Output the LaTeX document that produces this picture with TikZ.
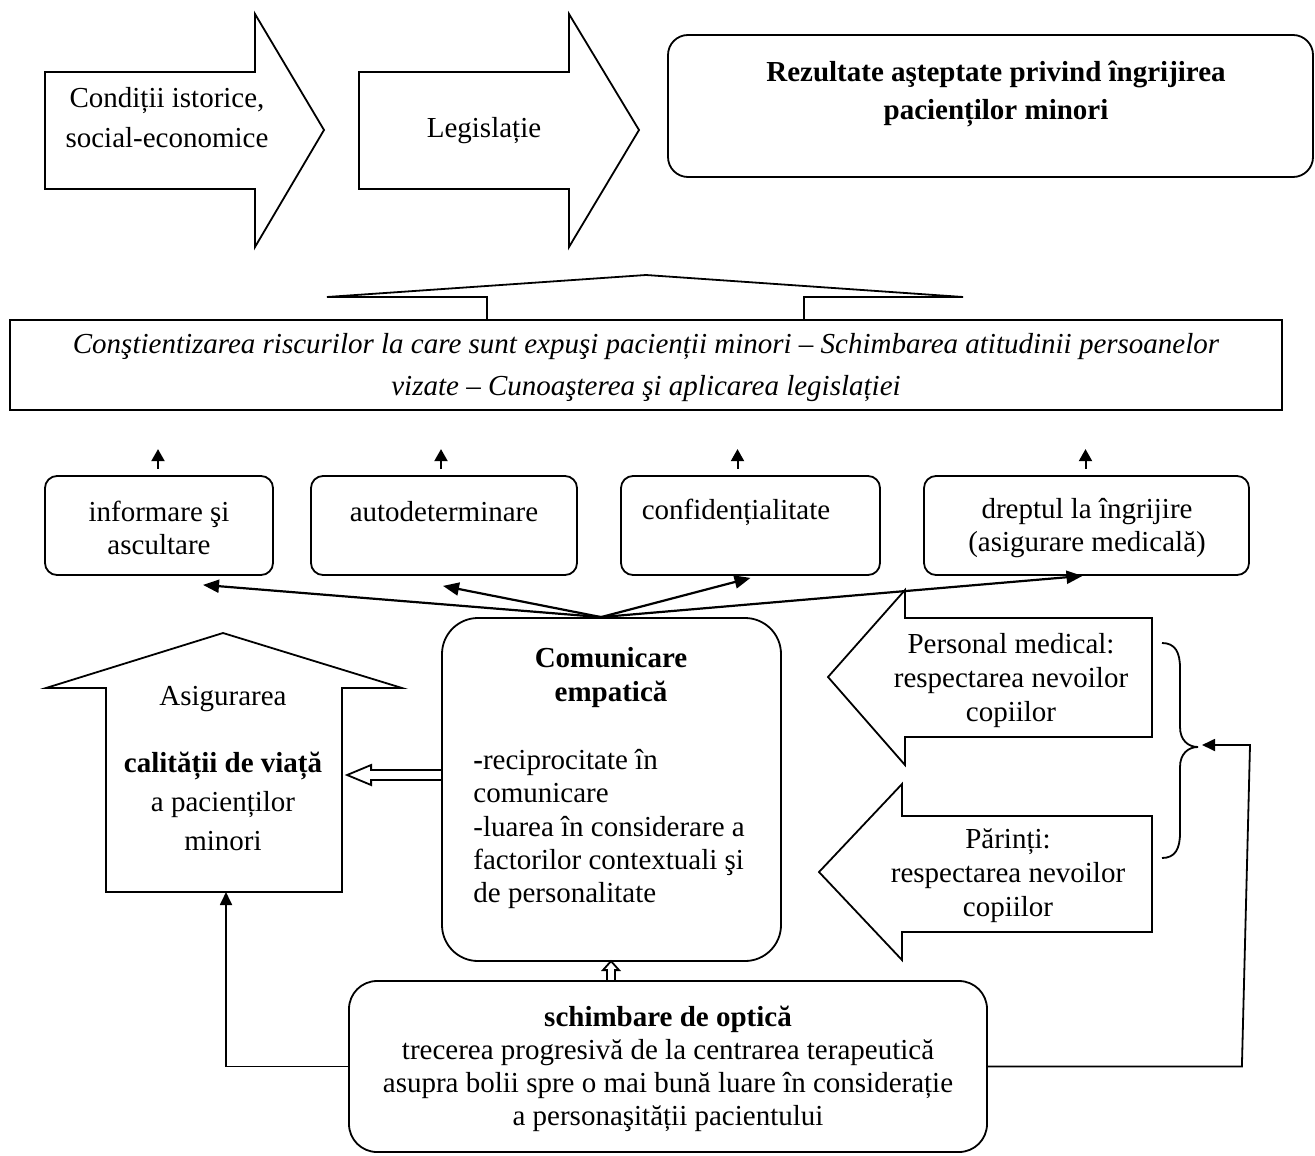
\documentclass[tikz,border=0pt]{standalone}
\usepackage{fontspec}
\setmainfont{Liberation Serif}
\usetikzlibrary{arrows.meta,calc,fit}
\newcommand\myfs[1]{\fontsize{14.5}{#1}\selectfont}
\tikzset{
  lw/.style={line width=0.9pt},
  rbox/.style={draw, line width=0.9pt, rounded corners=6pt, inner sep=0pt},
  pbox/.style={draw, line width=0.9pt, inner sep=0pt},
  txt/.style={inner sep=0pt, align=center, font=\myfs{16.5}},
  fan/.style={line width=1.1pt, -{Triangle[length=8pt,width=6.5pt]}},
  uparr/.style={line width=1pt, -{Triangle[length=6pt,width=6.5pt]}},
  conn/.style={line width=0.9pt, -{Triangle[length=6.5pt,width=6pt]}},
}
\begin{document}
\begin{tikzpicture}[x=0.5pt,y=-0.5pt]
\useasboundingbox (0,0) rectangle (1315,1155);

% top arrows
\draw[lw] (45,72) -- (255,72) -- (255,14) -- (324,130) -- (255,247) -- (255,189) -- (45,189) -- cycle;
\node[txt, font=\myfs{20}] (tcond) at (167,118) {Condiții istorice,\\social-economice};
\draw[lw] (359,72) -- (569,72) -- (569,14) -- (639,130) -- (569,247) -- (569,189) -- (359,189) -- cycle;
\node[txt] (tleg) at (484,131) {Legislație};

% results box
\node[rbox, rounded corners=10pt, fit={(668,35) (1313,177)}] (res) {};
\node[txt, font=\bfseries\myfs{19}] (tres) at (996,94) {Rezultate aşteptate privind îngrijirea\\pacienților minori};

% banner
\draw[lw] (487,320) -- (487,297) -- (327,297) -- (646,275) -- (963,297) -- (804,297) -- (804,320);
\node[pbox, fit={(10,320) (1282,410)}] (cons) {};
\node[txt, font=\itshape\myfs{21}] (tcons) at (646,368) {Conştientizarea riscurilor la care sunt expuşi pacienții minori – Schimbarea atitudinii persoanelor\\vizate – Cunoaşterea şi aplicarea legislației};

% row boxes
\node[rbox, fit={(45,476) (273,575)}] (b1) {};
\node[rbox, fit={(311,476) (577,575)}] (b2) {};
\node[rbox, fit={(621,476) (880,575)}] (b3) {};
\node[rbox, fit={(924,476) (1249,575)}] (b4) {};
\node[txt] (t1) at (159,528) {informare şi\\ascultare};
\node[txt] (t2) at (444,512) {autodeterminare};
\node[txt] (t3) at (736,512) {confidențialitate};
\node[txt] (t4) at (1087,528) {dreptul la îngrijire\\(asigurare medicală)};

\draw[uparr] ($(b1.north)+(-1,-6)$) -- ($(b1.north)+(-1,-26)$);
\draw[uparr] ($(b2.north)+(-3,-6)$) -- ($(b2.north)+(-3,-26)$);
\draw[uparr] ($(b3.north)+(-13,-6)$) -- ($(b3.north)+(-13,-26)$);
\draw[uparr] ($(b4.north)+(-1,-6)$) -- ($(b4.north)+(-1,-26)$);

% communication box
\node[rbox, rounded corners=18pt, fit={(442,618) (781,961)}] (com) {};
\node[txt, font=\bfseries\myfs{17}] (tcomh) at (611,678) {Comunicare\\empatică};
\node[txt, align=left, font=\myfs{16.7}, anchor=west] (tcomb) at (473,829) {\textbf{-}reciprocitate în\\comunicare\\-luarea în considerare a\\factorilor contextuali şi\\de personalitate};

% fan arrows
\coordinate (fo) at ($(com.north)+(-10.5,0)$);
\draw[fan] (fo) -- ($(b1.south)+(44,9)$);
\draw[fan] (fo) -- ($(b2.south)+(-1,10)$);
\draw[fan] (fo) -- ($(b3.south)+(0,2)$);
\draw[fan] (fo) -- ($(b4.south)+(-4,0)$);

% house arrow
\draw[lw] (223,633) -- (402,688) -- (342,688) -- (342,892) -- (106,892) -- (106,688) -- (46,688) -- cycle;
\coordinate (hb) at (226,892);
\node[txt] (tas1) at (223,699) {Asigurarea};
\node[txt, font=\myfs{19.5}] (tas2) at (223,801) {\textbf{calității de viață}\\a pacienților\\minori};

% hollow arrow com -> house
\coordinate (h1) at ($(com.west)+(0,-14.5)$);
\draw[lw] (h1) ++(0,-5) -- ++(-70,0) -- ++(0,-5) -- ++(-24,10) -- ++(24,10) -- ++(0,-5) -- ++(70,0);

% left-pointing arrows
\draw[lw] (905,590) -- (828,677) -- (905,765) -- (905,737) -- (1152,737) -- (1152,618) -- (905,618) -- cycle;
\node[txt, font=\myfs{17}] (tpm) at (1011,681) {Personal medical:\\respectarea nevoilor\\copiilor};
\draw[lw] (902,784) -- (819,872) -- (902,960) -- (902,932) -- (1152,932) -- (1152,816) -- (902,816) -- cycle;
\node[txt, font=\myfs{17}] (tpa) at (1008,876) {Părinți:\\respectarea nevoilor\\copiilor};

% brace
\draw[lw] (1162,643) .. controls (1175,643) and (1180,652) .. (1180,668) -- (1180,727)
  .. controls (1180,740) and (1188,747) .. (1198,747)
  .. controls (1188,747) and (1180,754) .. (1180,767) -- (1180,833)
  .. controls (1180,849) and (1175,858) .. (1162,858);
\coordinate (bt) at (1202,745);

% schimbare box
\node[rbox, rounded corners=14pt, fit={(349,981) (987,1152)}] (sch) {};
\node[txt, font=\myfs{16.5}] (tsch) at (668,1069) {\textbf{schimbare de optică}\\trecerea progresivă de la centrarea terapeutică\\asupra bolii spre o mai bună luare în considerație\\a personaşității pacientului};

% hollow up arrow sch -> com
\coordinate (h2) at ($(sch.north)+(-57,0)$);
\draw[lw] (h2) ++(-4,0) -- ++(0,-10) -- ++(-4,0) -- ++(8,-9) -- ++(8,9) -- ++(-4,0) -- ++(0,10);

% loop connectors
\draw[conn] (sch.west) -| (hb);
\coordinate (rc) at (1250,745);
\draw[conn] (sch.east) -- ($(sch.east)+(254,0)$) -- (rc) -- (bt);
\end{tikzpicture}
\end{document}
